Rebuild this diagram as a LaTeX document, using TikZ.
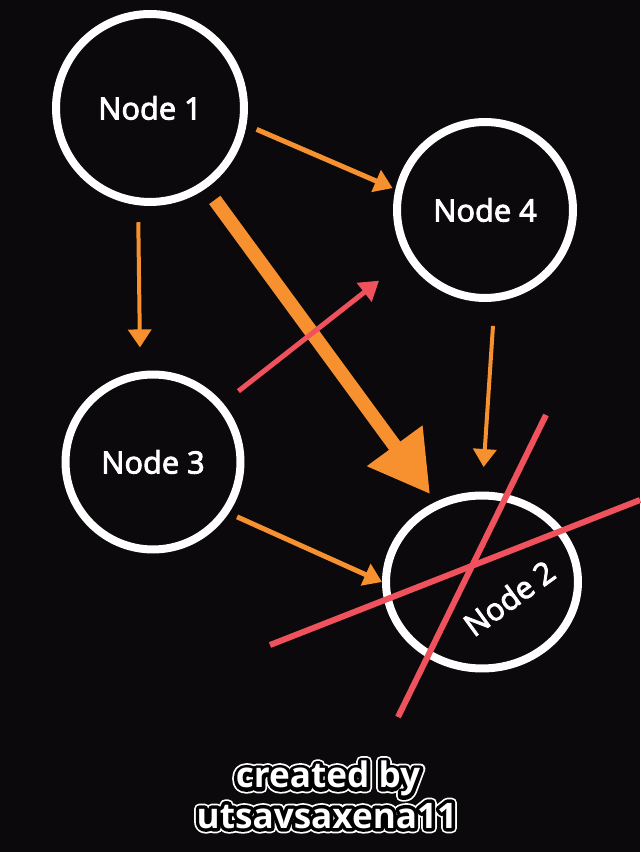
\documentclass[tikz,border=0pt]{standalone}
\usepackage{fontspec}
\setmainfont{Open Sans}
\newfontfamily\nodefont{Open Sans}[FakeBold=3]
\newfontfamily\creditrim{Open Sans}[UprightFont=* Bold, FakeBold=30]
\newfontfamily\creditline{Open Sans}[UprightFont=* Bold, FakeBold=20]
\newfontfamily\creditfill{Open Sans}[UprightFont=* Bold]
\usetikzlibrary{arrows.meta, shapes.geometric, positioning, calc}
\definecolor{bgcol}{RGB}{12,9,13}
\definecolor{flowcol}{RGB}{247,145,48}
\definecolor{cutcol}{RGB}{239,82,92}
\tikzset{
  graphnode/.style={circle, draw=white, line width=0.16cm, inner sep=0pt,
                    text=white, font=\nodefont\fontsize{17.5}{21}\selectfont},
  flow/.style={flowcol, line width=0.1cm,
               -{Triangle[length=0.36cm,width=0.46cm]}},
  bigflow/.style={flowcol, line width=0.28cm,
                  -{Triangle[length=1.2cm,width=1.3cm]}},
  redflow/.style={cutcol, line width=0.1cm,
                  -{Triangle[length=0.38cm,width=0.46cm]}},
  cutline/.style={cutcol, line width=0.12cm},
  credit/.style={anchor=base, line join=round,
                 font=\fontsize{20}{24}\selectfont}
}
\newcommand\outlined[1]{%
  \rlap{\color{white}\creditrim #1}%
  \rlap{\color{black}\creditline #1}%
  {\color{white}\creditfill #1}}

\begin{document}
\begin{tikzpicture}[x=0.02cm,y=0.02cm]

% ── Background ────────────────────────────────────────────────────────────────
\fill[bgcol] (0,0) rectangle (640,852);
\useasboundingbox (0,0) rectangle (640,852);

% ── Nodes ─────────────────────────────────────────────────────────────────────
\node[graphnode, minimum size=3.76cm] (n1) at (150,744) {Node 1};
\node[graphnode, minimum size=3.52cm] (n4) at (485,642) {Node 4};
\node[graphnode, minimum size=3.5cm]  (n3) at (153,390) {Node 3};
\node[graphnode, ellipse, minimum width=3.84cm, minimum height=3.46cm]
      (n2) at (482,270) {};
\node[text=white, font=\nodefont\fontsize{17.5}{21}\selectfont, rotate=36]
      (n2lbl) at (509,254) {Node 2};

% ── Edges ─────────────────────────────────────────────────────────────────────
\draw[flow, shorten <=0.22cm, shorten >=0.06cm] (n1.-10) -- (n4.167);
\draw[flow, line width=0.08cm, shorten <=0.34cm, shorten >=0.48cm]
     (n1.-97) -- (n3.98);
\draw[bigflow, shorten <=0.29cm, shorten >=0.19cm] (n1.-55) -- (n2.120);
\draw[flow, line width=0.08cm, shorten <=0.49cm, shorten >=0.49cm]
     (n4.-84) -- (n2.90);
\draw[flow, shorten <=0.18cm] (n3.-34) -- (n2.180);
\draw[redflow, shorten <=0.39cm, shorten >=0.71cm] (n3.40) -- (n4.-148);

% ── Node 2 crossed out ────────────────────────────────────────────────────────
\draw[cutline] (546,437) -- (398,135);
\draw[cutline] (270,207) -- (640,352);

% ── Credit ────────────────────────────────────────────────────────────────────
\node[credit] (credit1) at (328,64) {\outlined{created by}};
\node[credit] (credit2) at (327,24) {\outlined{utsavsaxena11}};

\end{tikzpicture}
\end{document}
